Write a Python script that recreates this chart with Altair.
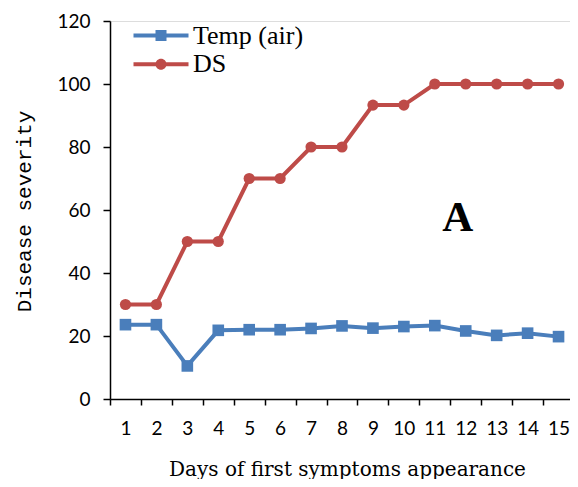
import altair as alt
import pandas as pd

days = [str(d) for d in range(1, 16)]
temp_air = [23.6, 23.6, 10.5, 21.8, 22.0, 22.0, 22.4, 23.2, 22.5, 23.0, 23.3, 21.6, 20.2, 20.9, 19.8]
ds = [30, 30, 50, 50, 70, 70, 80, 80, 93.3, 93.3, 100, 100, 100, 100, 100]
series_names = ["Temp (air)", "DS"]
series_colors = ["#4A7EBB", "#BE4B48"]
y_ticks = [0, 20, 40, 60, 80, 100, 120]
panel_label = "A"
panel_day = "11"
panel_value = 53.3

rows = []
for d, t, s in zip(days, temp_air, ds):
    rows.append({"day": d, "value": t, "series": series_names[0]})
    rows.append({"day": d, "value": s, "series": series_names[1]})
df = pd.DataFrame(rows)
label_df = pd.DataFrame({"day": [panel_day], "value": [panel_value], "label": [panel_label]})

# legend symbols: a line segment with the marker on it
sq_path = "M-5,-0.36H5V0.36H-5Z M-1,-1H1V1H-1Z"
circ_path = "M-5,-0.36H5V0.36H-5Z M-1,0A1,1 0 1,1 1,0A1,1 0 1,1 -1,0Z"

x_enc = alt.X(
    "day:O",
    sort=days,
    scale=alt.Scale(type="band", paddingInner=0, paddingOuter=0, range=[0, 464]),
    axis=alt.Axis(
        title="Days of first symptoms appearance",
        labelAngle=0,
        tickBand="extent",
        labelFont="Lato",
        labelFontSize=19,
        labelColor="black",
        labelPadding=14,
        labelBaseline="top",
        tickColor="black",
        tickSize=6,
        tickWidth=1.5,
        domainColor="black",
        domainWidth=1.5,
        titleFont="DejaVu Serif",
        titleFontSize=20,
        titleFontWeight="normal",
        titleColor="black",
        titleX=237,
        titleY=76,
        titleAlign="center",
        titleBaseline="alphabetic",
        grid=False,
    ),
)
y_enc = alt.Y(
    "value:Q",
    scale=alt.Scale(domain=[0, 120], nice=False, zero=True),
    axis=alt.Axis(
        title="Disease severity",
        values=y_ticks,
        labelFont="Lato",
        labelFontSize=19,
        labelColor="black",
        labelPadding=13,
        tickColor="black",
        tickSize=7,
        tickWidth=1.5,
        domainColor="black",
        domainWidth=1.5,
        titleFont="Liberation Mono",
        titleFontSize=21,
        titleFontWeight="normal",
        titleColor="black",
        titleAngle=270,
        titleX=-86,
        titleY=190,
        titleAlign="center",
        titleBaseline="middle",
        grid=False,
    ),
)
color_scale = alt.Scale(domain=series_names, range=series_colors)

legend_def = alt.Legend(
    title=None,
    orient="none",
    legendX=38,
    legendY=1.5,
    padding=0,
    labelFont="Liberation Serif",
    labelFontSize=26,
    labelColor="black",
    labelOffset=19,
    symbolSize=121,
    symbolStrokeWidth=0,
    symbolOpacity=1,
    rowPadding=2.8,
)

base = alt.Chart(df)

legend_layer = base.mark_point(filled=True, opacity=0, size=121).encode(
    x=x_enc, y=y_enc,
    color=alt.Color("series:N", scale=color_scale, legend=legend_def),
    shape=alt.Shape(
        "series:N",
        scale=alt.Scale(domain=series_names, range=[sq_path, circ_path]),
        legend=legend_def,
    ),
)
lines = base.mark_line(strokeWidth=4).encode(
    x=x_enc, y=y_enc,
    color=alt.Color("series:N", scale=color_scale, legend=None),
    detail="series:N",
)
squares = base.transform_filter(alt.datum.series == series_names[0]).mark_square(
    size=135, opacity=1
).encode(
    x=x_enc, y=y_enc,
    color=alt.Color("series:N", scale=color_scale, legend=None),
)
circles = base.transform_filter(alt.datum.series == series_names[1]).mark_circle(
    size=125, opacity=1
).encode(
    x=x_enc, y=y_enc,
    color=alt.Color("series:N", scale=color_scale, legend=None),
)
panel = alt.Chart(label_df).mark_text(
    font="Liberation Serif", fontSize=43, fontWeight="bold", color="black",
    baseline="alphabetic", align="center", dx=23,
).encode(x=alt.X("day:O", sort=days), y="value:Q", text="label:N")

chart = alt.layer(legend_layer, lines, squares, circles, panel).properties(
    width=460,
    height=378,
    autosize=alt.AutoSizeParams(type="none"),
    padding={"left": 102, "top": 13, "right": 0, "bottom": 80},
).configure_view(stroke=None).configure(background="white")

chart.save("out.html", embed_options={"renderer": "svg", "actions": False})
